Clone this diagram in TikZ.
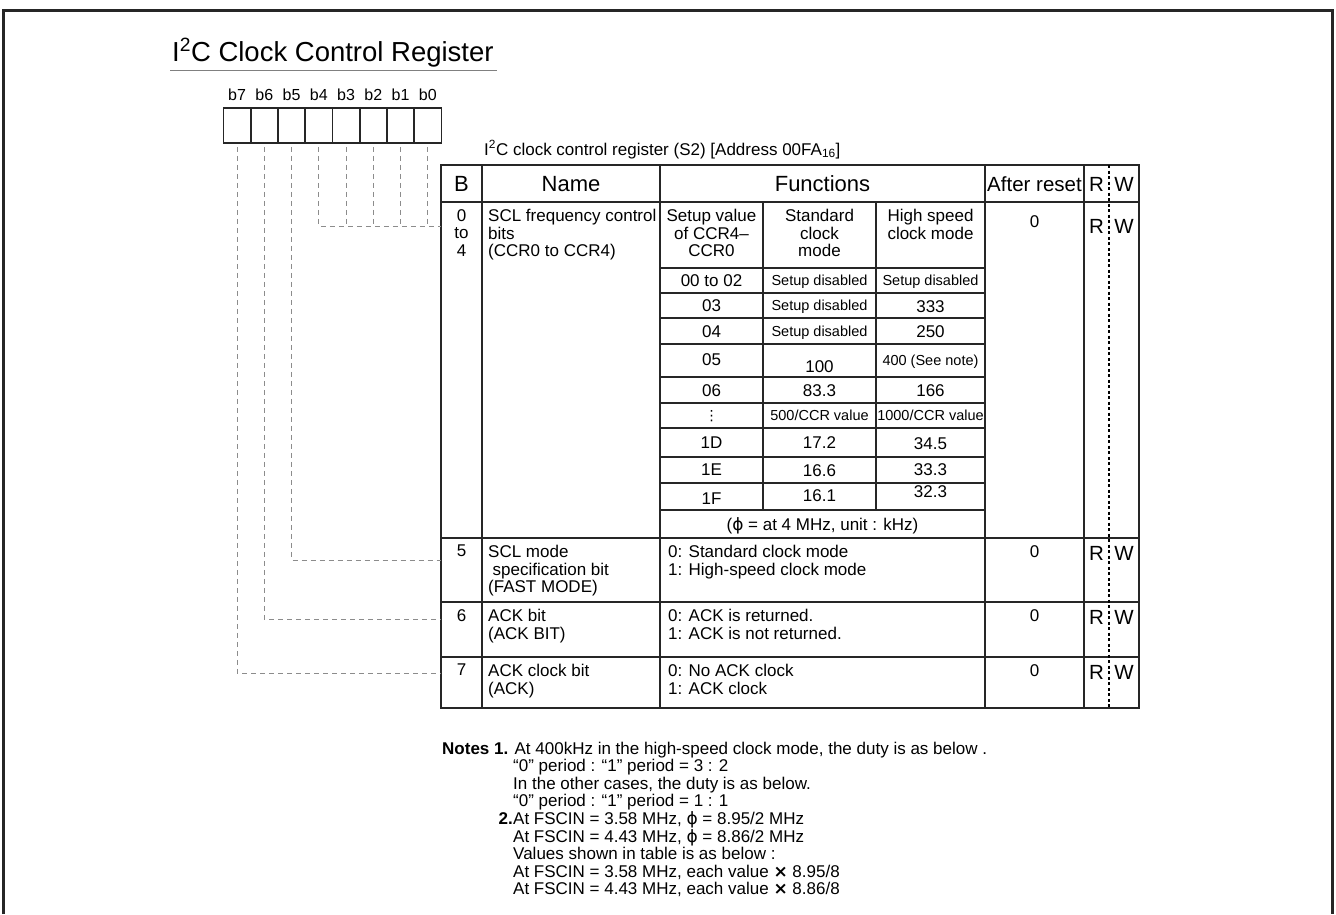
\documentclass[tikz,border=0pt]{standalone}
\usepackage{fontspec}
\setmainfont{Liberation Sans}
\newfontfamily\dejavu{DejaVu Sans}
\usepackage{amssymb,amsmath}
\usepackage{tikz}

\newcommand{\setfs}[2]{\fontsize{#1}{#2}\selectfont}
\newcommand{\phisym}{{\dejavu ϕ}}

\begin{document}
\begin{tikzpicture}[x=1pt,y=-1pt,node distance=27.25pt,
  every node/.style={inner sep=0pt},
  bit box/.style={rectangle,draw=black!85,line width=1.8pt,minimum width=27.25pt,minimum height=35pt},
  bit label/.style={font=\setfs{16}{18}},
  head/.style={font=\setfs{20.5}{22},text height=14.7pt,text depth=0pt},
  big head/.style={font=\setfs{22}{24},text height=15.8pt,text depth=0pt},
  cell/.style={font=\setfs{17}{18},text height=12.2pt,text depth=0pt},
  small/.style={font=\setfs{14.5}{16},text height=10.4pt,text depth=0pt},
  body/.style={font=\setfs{17}{17.5},align=left,anchor=north west},
  body c/.style={font=\setfs{17}{17.5},align=center,anchor=north},
  note/.style={font=\setfs{17}{17.5},align=left},
  grid/.style={draw=black!85,line width=1.6pt},
  leader/.style={draw=black!45,line width=0.9pt,dash pattern=on 5pt off 4pt,shorten <=3pt},
  rw line/.style={draw=black,line width=1.8pt,dash pattern=on 3pt off 2.5pt}]
  \useasboundingbox (0,0) rectangle (1336,914);

  % page frame
  \draw[black!85,line width=2.2pt] (3.5,914) -- (3.5,10.5) -- (1332.5,10.5) -- (1332.5,914);

  % title
  \node[anchor=base west,font=\setfs{27.5}{30}] (title) at (172,61) {I\textsuperscript{2}C Clock Control Register};
  \draw[black!50,line width=1pt] (170,70) -- (497,70);

  % bit boxes
  \node[bit box] (b7) at (237.1,125.5) {};
  \node[bit box] (b6) [right of=b7] {};
  \node[bit box] (b5) [right of=b6] {};
  \node[bit box] (b4) [right of=b5] {};
  \node[bit box] (b3) [right of=b4] {};
  \node[bit box] (b2) [right of=b3] {};
  \node[bit box] (b1) [right of=b2] {};
  \node[bit box] (b0) [right of=b1] {};
  \node[bit label] (lb7) [above of=b7,yshift=3pt] {b7};
  \node[bit label] (lb6) [above of=b6,yshift=3pt] {b6};
  \node[bit label] (lb5) [above of=b5,yshift=3pt] {b5};
  \node[bit label] (lb4) [above of=b4,yshift=3pt] {b4};
  \node[bit label] (lb3) [above of=b3,yshift=3pt] {b3};
  \node[bit label] (lb2) [above of=b2,yshift=3pt] {b2};
  \node[bit label] (lb1) [above of=b1,yshift=3pt] {b1};
  \node[bit label] (lb0) [above of=b0,yshift=3pt] {b0};

  \node[anchor=base west,font=\setfs{17}{19}] (reg_name) at (484,155)
    {I\textsuperscript{2}C clock control register (S2) [Address 00FA\textsubscript{16}]};

  % table grid
  \draw[grid] (441,165) rectangle (1139,708);
  \draw[grid] (482,165) -- (482,708) (660,165) -- (660,708)
    (985,165) -- (985,708) (1084,165) -- (1084,708);
  \draw[grid] (441,202) -- (1139,202) (441,538) -- (1139,538)
    (441,602) -- (1139,602) (441,657) -- (1139,657);
  \draw[grid] (763,202) -- (763,510) (876,202) -- (876,510);
  \draw[grid] (660,268) -- (985,268) (660,293) -- (985,293) (660,318) -- (985,318)
    (660,344) -- (985,344) (660,377) -- (985,377) (660,403) -- (985,403)
    (660,428) -- (985,428) (660,457) -- (985,457) (660,483) -- (985,483)
    (660,510) -- (985,510);
  \draw[rw line] (1109,165) -- (1109,708);

  % header
  \node[big head] (h_b) at (461.5,184) {B};
  \node[big head] (h_name) at (571,184) {Name};
  \node[big head] (h_func) at (822.5,184) {Functions};
  \node[head] (h_reset) at (1034.5,184) {After reset};
  \node[head] (h_r) at (1096.5,184) {R};
  \node[head] (h_w) at (1124,184) {W};

  % bits 0 to 4
  \node[body c] (b_04) at (461.5,209) {0\\to\\4};
  \node[body] (n_04) at (488,209) {SCL frequency control\\bits\\(CCR0 to CCR4)};
  \node[body c] (s_set) at (711.5,209) {Setup value\\of CCR4–\\CCR0};
  \node[body c] (s_std) at (819.5,209) {Standard\\clock\\mode};
  \node[body c] (s_high) at (930.5,209) {High speed\\clock mode};
  \node[cell] (v_00) at (711.5,280.5) {00 to 02};
  \node[small] (d_00) at (819.5,280.5) {Setup disabled};
  \node[small] (e_00) at (930.5,280.5) {Setup disabled};
  \node[cell] (v_03) at (711.5,305.5) {03};
  \node[small] (d_03) at (819.5,305) {Setup disabled};
  \node[cell] (e_03) at (930.5,306.5) {333};
  \node[cell] (v_04) at (711.5,331) {04};
  \node[small] (d_04) at (819.5,331) {Setup disabled};
  \node[cell] (e_04) at (930.5,331) {250};
  \node[cell] (v_05) at (711.5,359) {05};
  \node[cell] (d_05) at (819.5,366) {100};
  \node[small] (e_05) at (930.5,360) {400 (See note)};
  \node[cell] (v_06) at (711.5,390) {06};
  \node[cell] (d_06) at (819.5,390) {83.3};
  \node[cell] (e_06) at (930.5,390) {166};
  \node[font=\dejavu\setfs{14}{16}] (v_dots) at (711.5,416) {⋮};
  \node[small] (d_dots) at (819.5,415.5) {500/CCR value};
  \node[small] (e_dots) at (930.5,415.5) {1000/CCR value};
  \node[cell] (v_1d) at (711.5,442.5) {1D};
  \node[cell] (d_1d) at (819.5,442.5) {17.2};
  \node[cell] (e_1d) at (930.5,443.5) {34.5};
  \node[cell] (v_1e) at (711.5,469) {1E};
  \node[cell] (d_1e) at (819.5,470) {16.6};
  \node[cell] (e_1e) at (930.5,469) {33.3};
  \node[cell] (v_1f) at (711.5,498) {1F};
  \node[cell] (d_1f) at (819.5,495) {16.1};
  \node[cell] (e_1f) at (930.5,491) {32.3};
  \node[cell] (unit) at (822.5,524) {(\phisym{} = at 4 MHz, unit : kHz)};
  \node[cell] (a_04) at (1034.5,221) {0};
  \node[head] (r_04) at (1096.5,226) {R};
  \node[head] (w_04) at (1124,226) {W};

  % bit 5
  \node[body c] (b_5) at (461.5,545) {5};
  \node[body] (n_5) at (488,545) {SCL mode\\\hspace*{4.5pt}specification bit\\(FAST MODE)};
  \node[body] (f_5) at (668,545) {0: Standard clock mode\\1: High-speed clock mode};
  \node[cell] (a_5) at (1034.5,551) {0};
  \node[head] (r_5) at (1096.5,553) {R};
  \node[head] (w_5) at (1124,553) {W};

  % bit 6
  \node[body c] (b_6) at (461.5,609) {6};
  \node[body] (n_6) at (488,609) {ACK bit\\(ACK BIT)};
  \node[body] (f_6) at (668,609) {0: ACK is returned.\\1: ACK is not returned.};
  \node[cell] (a_6) at (1034.5,615) {0};
  \node[head] (r_6) at (1096.5,617) {R};
  \node[head] (w_6) at (1124,617) {W};

  % bit 7
  \node[body c] (b_7) at (461.5,664) {7};
  \node[body] (n_7) at (488,664) {ACK clock bit\\(ACK)};
  \node[body] (f_7) at (668,664) {0: No ACK clock\\1: ACK clock};
  \node[cell] (a_7) at (1034.5,670) {0};
  \node[head] (r_7) at (1096.5,672) {R};
  \node[head] (w_7) at (1124,672) {W};

  % leaders from the bits to the rows
  \coordinate (to_04) at (441,226);
  \coordinate (to_5) at (441,560);
  \coordinate (to_6) at (441,619);
  \coordinate (to_7) at (441,673);
  \draw[leader] (b4.south) |- (to_04);
  \draw[leader] (b3.south) -- (b3.south |- to_04);
  \draw[leader] (b2.south) -- (b2.south |- to_04);
  \draw[leader] (b1.south) -- (b1.south |- to_04);
  \draw[leader] (b0.south) -- (b0.south |- to_04);
  \draw[leader] (b5.south) |- (to_5);
  \draw[leader] (b6.south) |- (to_6);
  \draw[leader] (b7.south) |- (to_7);

  % notes
  \node[note,anchor=base west] (note_1) at (442,754)
    {\textbf{Notes 1.} At 400kHz in the high-speed clock mode, the duty is as below .};
  \node[note,anchor=north west] (note_1b) at (513,759.1)
    {“0” period : “1” period = 3 : 2\\In the other cases, the duty is as below.\\“0” period : “1” period = 1 : 1};
  \node[note,anchor=base east] (note_2) at (513,824) {\textbf{2.}};
  \node[note,anchor=north west] (note_2b) at (513,811.6)
    {At FSCIN = 3.58 MHz, \phisym{} = 8.95/2 MHz\\At FSCIN = 4.43 MHz, \phisym{} = 8.86/2 MHz\\Values shown in table is as below :\\At FSCIN = 3.58 MHz, each value {\dejavu\bfseries ×} 8.95/8\\At FSCIN = 4.43 MHz, each value {\dejavu\bfseries ×} 8.86/8};
\end{tikzpicture}
\end{document}
